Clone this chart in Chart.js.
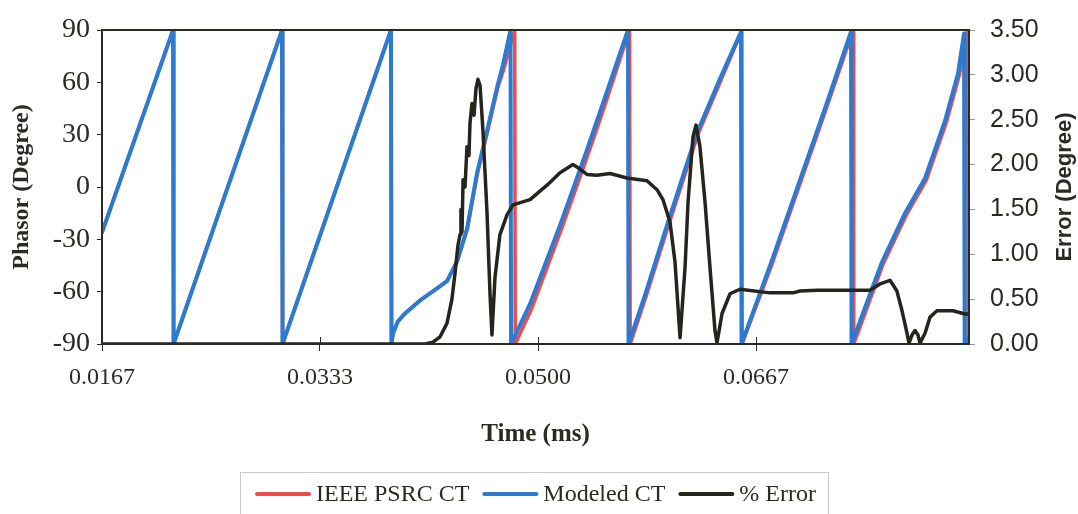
<!DOCTYPE html>
<html>
<head>
<meta charset="utf-8">
<title>Phasor and Error</title>
<script src="https://cdn.jsdelivr.net/npm/chart.js@4/dist/chart.umd.min.js"></script>
<style>
  html, body { margin: 0; padding: 0; background: #ffffff; }
  #chart-box { width: 1078px; height: 514px; }
</style>
</head>
<body>
<div id="chart-box"><canvas id="phasor-chart" width="1078" height="514"></canvas></div>
<script>
// Time axis (s) and tick positions
const xTickValues = [0.016667, 0.033333, 0.05, 0.066667];
const timeMin = 0.016667;
const timeMax = 0.08295;

// IEEE PSRC CT phase angle (degree)
const psrcTime = [0.01667, 0.02210, 0.02214, 0.03043, 0.03047, 0.03876, 0.03880, 0.03891, 0.03929, 0.03983,
  0.04098, 0.04212, 0.04304, 0.04381, 0.04460, 0.04538, 0.04615, 0.04693, 0.04740, 0.04822,
  0.04826, 0.04950, 0.05180, 0.05370, 0.05508, 0.05700, 0.05705, 0.05825, 0.05993, 0.06222,
  0.06398, 0.06555, 0.06560, 0.06795, 0.07009, 0.07200, 0.07410, 0.07414, 0.07640, 0.07816,
  0.07969, 0.08122, 0.08221, 0.08284, 0.08288, 0.08295];
const psrcPhase = [-26, 90, -90, 90, -90, 90, -90, -84, -77, -72.5,
  -65, -59, -54, -43, -24, 8, 32, 57, 68, 90,
  -90, -70, -24, 16, 46, 90, -90, -63, -23, 30,
  61, 89, -90, -43, 3, 44, 90, -90, -44, -16,
  4, 37, 64, 90, -90, -88];

// Modeled CT phase angle (degree)
const modeledTime = [0.01667, 0.02210, 0.02214, 0.03043, 0.03047, 0.03876, 0.03880, 0.03891, 0.03929, 0.03983,
  0.04098, 0.04212, 0.04304, 0.04381, 0.04457, 0.04534, 0.04610, 0.04687, 0.04732, 0.04790,
  0.04794, 0.04939, 0.05168, 0.05359, 0.05497, 0.05688, 0.05692, 0.05818, 0.05986, 0.06215,
  0.06391, 0.06552, 0.06556, 0.06789, 0.07003, 0.07194, 0.07393, 0.07397, 0.07630, 0.07806,
  0.07959, 0.08112, 0.08211, 0.08257, 0.08262, 0.08295];
const modeledPhase = [-26, 90, -90, 90, -90, 90, -90, -84, -77, -72.5,
  -65, -59, -54, -42.6, -24, 8, 32, 57, 70, 90,
  -90, -67, -22, 18, 48, 90, -90, -62, -22, 31,
  62, 89, -90, -42, 4, 45, 89, -90, -43, -15,
  5, 38, 65, 88, -90, -86];

// Error between the two (degree)
const errorTime = [0.01667, 0.04136, 0.04197, 0.04251, 0.04304, 0.04342, 0.04365, 0.04388, 0.04404, 0.04411,
  0.04419, 0.04427, 0.04442, 0.04457, 0.04472, 0.04480, 0.04495, 0.04511, 0.04526, 0.04541,
  0.04557, 0.04579, 0.04610, 0.04633, 0.04648, 0.04671, 0.04709, 0.04763, 0.04809, 0.04939,
  0.05069, 0.05168, 0.05267, 0.05321, 0.05374, 0.05451, 0.05550, 0.05680, 0.05833, 0.05910,
  0.05955, 0.06009, 0.06047, 0.06086, 0.06124, 0.06147, 0.06185, 0.06208, 0.06238, 0.06277,
  0.06315, 0.06353, 0.06368, 0.06407, 0.06468, 0.06544, 0.06774, 0.06949, 0.07003, 0.07133,
  0.07538, 0.07615, 0.07691, 0.07744, 0.07783, 0.07821, 0.07836, 0.07859, 0.07882, 0.07905,
  0.07920, 0.07959, 0.07997, 0.08050, 0.08173, 0.08249, 0.08295];
const errorValue = [0, 0, 0.02, 0.08, 0.23, 0.5, 0.78, 1.1, 1.22, 1.5,
  1.25, 1.83, 1.75, 2.2, 2.1, 2.46, 2.68, 2.55, 2.85, 2.95,
  2.88, 2.38, 1.47, 0.56, 0.1, 0.74, 1.22, 1.44, 1.55, 1.61,
  1.77, 1.91, 2.0, 1.95, 1.89, 1.88, 1.9, 1.85, 1.82, 1.72,
  1.61, 1.36, 0.92, 0.07, 0.85, 1.58, 2.31, 2.44, 2.2, 1.58,
  0.85, 0.15, 0.01, 0.34, 0.56, 0.61, 0.57, 0.57, 0.59, 0.6,
  0.6, 0.67, 0.71, 0.59, 0.37, 0.12, 0.01, 0.1, 0.15, 0.1,
  0.01, 0.12, 0.3, 0.37, 0.37, 0.34, 0.33];

const inkColor = "#2b2b24";
const serif = "'Liberation Serif', 'Times New Roman', serif";
const sans = "'Liberation Sans', Arial, sans-serif";

function toPoints(xs, ys) {
  return xs.map((x, i) => ({ x: x, y: ys[i] }));
}

// Frame, inner x tick marks, right axis title and boxed legend
const chartDecor = {
  id: "chartDecor",
  afterDraw(chart) {
    const { ctx, chartArea: a, scales } = chart;
    ctx.save();
    ctx.strokeStyle = inkColor;
    ctx.lineWidth = 2;
    ctx.strokeRect(a.left, a.top, a.right - a.left, a.bottom - a.top);

    ctx.lineWidth = 1;
    scales.x.ticks.forEach((t) => {
      const px = Math.round(scales.x.getPixelForValue(t.value)) + 0.5;
      ctx.beginPath();
      ctx.moveTo(px, a.bottom);
      ctx.lineTo(px, a.bottom - 7);
      ctx.stroke();
    });

    // right title reads bottom to top
    ctx.save();
    ctx.translate(1065, (a.top + a.bottom) / 2);
    ctx.rotate(-Math.PI / 2);
    ctx.fillStyle = inkColor;
    ctx.font = "bold 22px " + sans;
    ctx.textAlign = "center";
    ctx.textBaseline = "middle";
    ctx.fillText("Error (Degree)", 0, 0);
    ctx.restore();

    // legend
    ctx.font = "24px " + serif;
    const sampleW = 56, sampleGap = 5, itemGap = 13;
    const items = chart.data.datasets;
    let total = 0;
    items.forEach((ds, i) => {
      total += sampleW + sampleGap + ctx.measureText(ds.label).width;
      if (i < items.length - 1) total += itemGap;
    });
    const cx = (a.left + a.right) / 2;
    const ly = 494;
    ctx.strokeStyle = "#c9c9c9";
    ctx.lineWidth = 1;
    ctx.strokeRect(240.5, 472.5, 588, 60);
    let x = cx - total / 2;
    ctx.textBaseline = "middle";
    ctx.textAlign = "left";
    items.forEach((ds) => {
      ctx.strokeStyle = ds.borderColor;
      ctx.lineWidth = 4;
      ctx.lineCap = "round";
      ctx.beginPath();
      ctx.moveTo(x + 2, ly);
      ctx.lineTo(x + sampleW - 2, ly);
      ctx.stroke();
      x += sampleW + sampleGap;
      ctx.fillStyle = inkColor;
      ctx.fillText(ds.label, x, ly + 1);
      x += ctx.measureText(ds.label).width + itemGap;
    });
    ctx.restore();
  },
};

const chartCanvas = document.getElementById("phasor-chart");
const ctx = chartCanvas.getContext("2d");

new Chart(ctx, {
  type: "line",
  data: {
    datasets: [
      {
        label: "IEEE PSRC CT",
        data: toPoints(psrcTime, psrcPhase),
        borderColor: "#ef4b4b",
        borderWidth: 3.5,
        yAxisID: "y",
        order: 3,
      },
      {
        label: "Modeled CT",
        data: toPoints(modeledTime, modeledPhase),
        borderColor: "#2b7bd3",
        borderWidth: 4,
        yAxisID: "y",
        order: 2,
      },
      {
        label: "% Error",
        data: toPoints(errorTime, errorValue),
        borderColor: "#25251e",
        borderWidth: 3.5,
        yAxisID: "y1",
        order: 1,
      },
    ],
  },
  options: {
    responsive: false,
    animation: false,
    devicePixelRatio: 1,
    layout: { padding: { top: 25, bottom: 60, left: 0, right: 0 } },
    elements: {
      point: { radius: 0 },
      line: { tension: 0, borderJoinStyle: "round", borderCapStyle: "round" },
    },
    plugins: {
      legend: { display: false },
      tooltip: { enabled: false },
    },
    scales: {
      x: {
        type: "linear",
        min: timeMin,
        max: timeMax,
        afterBuildTicks: (scale) => {
          scale.ticks = xTickValues.map((v) => ({ value: v }));
        },
        afterFit: (scale) => {
          scale.height = 110;
        },
        border: { display: false },
        grid: { drawOnChartArea: false, color: inkColor, tickLength: 7 },
        ticks: {
          color: inkColor,
          font: { family: serif, size: 24 },
          padding: 12,
          maxRotation: 0,
          callback: (v) => Number(v).toFixed(4),
        },
        title: {
          display: true,
          text: "Time (ms)",
          color: inkColor,
          font: { family: serif, size: 25, weight: "bold" },
          padding: { top: 0, bottom: 4 },
        },
      },
      y: {
        position: "left",
        min: -90,
        max: 90,
        afterFit: (scale) => {
          scale.width = 102;
        },
        border: { display: false },
        grid: { drawOnChartArea: false, color: inkColor, tickLength: 5 },
        ticks: {
          stepSize: 30,
          color: inkColor,
          font: { family: serif, size: 28 },
          padding: 7,
        },
        title: {
          display: true,
          text: "Phasor (Degree)",
          color: inkColor,
          font: { family: serif, size: 24, weight: "bold" },
          padding: { top: 7, bottom: 0 },
        },
      },
      y1: {
        position: "right",
        min: 0,
        max: 3.5,
        afterFit: (scale) => {
          scale.width = 109;
        },
        border: { display: false },
        grid: { drawOnChartArea: false, color: "#9a9a94", tickLength: 6 },
        ticks: {
          stepSize: 0.5,
          color: inkColor,
          font: { family: sans, size: 25 },
          padding: 15,
          callback: (v) => Number(v).toFixed(2),
        },
      },
    },
  },
  plugins: [chartDecor],
});
</script>
</body>
</html>
